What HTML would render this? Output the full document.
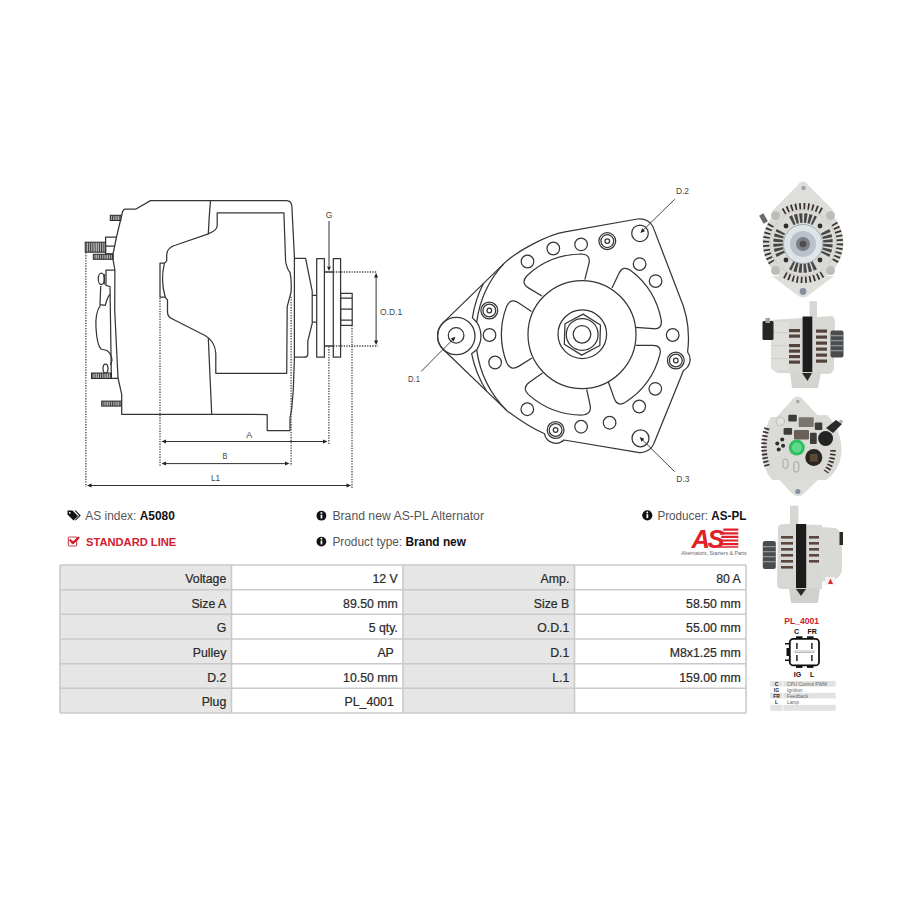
<!DOCTYPE html>
<html><head><meta charset="utf-8"><title>A5080</title>
<style>
html,body{margin:0;padding:0;background:#fff;}
body{width:900px;height:900px;position:relative;overflow:hidden;font-family:"Liberation Sans",sans-serif;}
svg{position:absolute;left:0;top:0;}
</style></head><body>
<svg width="900" height="900" viewBox="0 0 900 900">
<defs>
<pattern id="hatch" width="2.2" height="4" patternUnits="userSpaceOnUse">
<rect width="2.2" height="4" fill="#bcbcbc"/><rect width="1" height="4" fill="#3a3a3a"/>
</pattern>
</defs>
<rect width="900" height="900" fill="#fff"/>
<g fill="none" stroke="#363636" stroke-width="1.25" stroke-linejoin="round">
<path d="M150.5,200.6 L286.7,200.6 Q291.7,200.8 291.9,207 L294.4,256.7 L294.4,357.8 L293.3,390 L291.7,409 L290,418 L290,430.6 L267.2,430.6 L267.2,414.5 L121.7,414.3 L121.7,394.4 L118,378 L114.7,310 L114.9,270 L113,259.3 L113,254 L116.5,237 L122.5,212 Q123.5,209 125,209 L136,209 Z"/>
<path d="M210.5,200.6 Q209,218 208.3,233.9"/>
<path d="M208.3,338.3 L211.7,414.3"/>
<path d="M217.2,212.8 L283.9,212.8 L285.6,261 Q286.5,268 290,272.5 Q291.8,280 291.1,292 L287.2,306.7 L286.7,373.3 L215.8,373.3 L215.8,353.3 Q215,341 205,335.5 L173,319.2 Q167.5,317 167.5,312.2 L167.5,299.8 L165.2,297.1 L160,297.1 L160,263.2 L164.4,263.2 L166.7,260.9 L166.7,254.4 Q167,247.5 176,245 L208.3,233.9 Q217.2,230.5 217.2,225.6 Z"/>
<path d="M164.4,263.2 Q160.3,280 165.2,297.1"/>
<path d="M294.4,258.3 L305.6,258.3 L312.2,291.1 L312.2,323.3 L307.8,341.1 L307.8,354.4 Q307.5,357.2 304.4,357.2 L294.4,357.2"/>
<path d="M312.2,295.3 L316.7,295.3 M312.2,322.2 L316.7,322.2"/>
<rect x="316.7" y="258.7" width="7.7" height="98.5"/>
<rect x="333.3" y="258.7" width="7.3" height="98.5"/>
<rect x="340.6" y="293.3" width="11.6" height="32"/>
<path d="M340.6,298 L352.2,298 M340.6,309.1 L352.2,309.1 M340.6,320 L352.2,320"/>
<path d="M324.4,272 L333.3,272 M324.4,346 L333.3,346" stroke-width="1.6"/>
<path d="M116.5,237.2 L105.6,237.2 L105.6,253.9 L113,253.9"/>
<path d="M105.6,246.1 L114.8,246.1"/>
<path d="M114.9,270 L106,270 L106,285.3 L110,286.5 L111.3,373 M111.5,378.3 L118,378.3"/>
<ellipse cx="101.3" cy="278.8" rx="3" ry="5.8"/>
<path d="M104.3,274 L104.3,284.5"/>
<path d="M100.7,286 L100,304.7 L105.3,305.3 Q107,298 110,294"/>
<path d="M100.5,305 Q95,313 96,328 Q97,345 101,349 L107,350.5 Q111.5,354 112,360 L110.5,365"/>
<ellipse cx="105.5" cy="368.5" rx="2.5" ry="4.5"/>
</g>
<rect x="110.3" y="215.3" width="10.5" height="5.2" fill="url(#hatch)" stroke="#2a2a2a" stroke-width="1"/>
<rect x="85.2" y="242.2" width="20.4" height="10" fill="url(#hatch)" stroke="#2a2a2a" stroke-width="1"/>
<rect x="93.3" y="254.3" width="19.7" height="5" fill="url(#hatch)" stroke="#2a2a2a" stroke-width="1"/>
<rect x="91.5" y="373" width="20" height="5.5" fill="url(#hatch)" stroke="#2a2a2a" stroke-width="1"/>
<rect x="101.7" y="401.1" width="19.4" height="5" fill="url(#hatch)" stroke="#2a2a2a" stroke-width="1"/>
<g stroke="#444" stroke-width="1.3" stroke-dasharray="1.3 1.3" fill="none"><path d="M85.9,252.5 L85.9,487"/><path d="M160,298 L160,466"/><path d="M291.1,296.7 L291.1,466"/><path d="M328.9,346.5 L328.9,444"/><path d="M352,325.5 L352,488"/><path d="M333.3,272 L377,272"/><path d="M333.3,346 L378,346"/></g>
<g stroke="#333" stroke-width="1" fill="none"><path d="M376.1,276 L376.1,342"/><path d="M329,221 L329,266"/><path d="M165,441.5 L323,441.5"/><path d="M165,463.6 L286,463.6"/><path d="M91,485.5 L347,485.5"/></g>
<polygon fill="#222" points="376.1,273.0 378.1,277.5 374.1,277.5"/>
<polygon fill="#222" points="376.1,345.0 374.1,340.5 378.1,340.5"/>
<polygon fill="#222" points="329.0,271.0 327.0,266.5 331.0,266.5"/>
<polygon fill="#222" points="161.5,441.5 166.0,439.5 166.0,443.5"/>
<polygon fill="#222" points="327.5,441.5 323.0,443.5 323.0,439.5"/>
<polygon fill="#222" points="161.5,463.6 166.0,461.6 166.0,465.6"/>
<polygon fill="#222" points="289.5,463.6 285.0,465.6 285.0,461.6"/>
<polygon fill="#222" points="87.0,485.5 91.5,483.5 91.5,487.5"/>
<polygon fill="#222" points="351.0,485.5 346.5,487.5 346.5,483.5"/>
<g font-family="Liberation Sans, sans-serif" font-size="8.5" fill="#444"><text x="329" y="217.5" text-anchor="middle">G</text><text x="380" y="314.6">O.D.1</text><text x="249.3" y="437.7" text-anchor="middle" font-size="9">A</text><text x="225" y="459" text-anchor="middle" font-size="9.2" textLength="4.9" lengthAdjust="spacingAndGlyphs">B</text><text x="215.6" y="480.8" text-anchor="middle" font-size="9.8" textLength="9.2" lengthAdjust="spacingAndGlyphs">L1</text></g>
<g fill="none" stroke="#363636" stroke-width="1.25" stroke-linejoin="round">
<path d="M443.2,322.6 L503.9,263.6 C516.8,251.1 547.3,234.7 565,231.8 L637.4,219 A14.5 14.5 0 0 1 653.6,228.4 L679.5,296 A105.5 105.5 0 0 1 687.6,352 A12.5 12.5 0 0 1 683.5,370.5 L654.1,442.9 A14.5 14.5 0 0 1 637.9,452.3 L564,440 A11.7 11.7 0 0 1 544.5,433.8 C535,429.5 520,420.5 506.6,410.4 L443.3,349.5 A18.7 18.7 0 0 1 443.2,322.6 Z"/>
<path d="M483.4,283.5 A111 111 0 0 0 472.4,317.9 L476.7,322.2"/>
<path d="M476.7,349.8 L471.6,353.7 A111 111 0 0 0 486.5,391"/>
<path d="M503.9,263.6 A106.5 106.5 0 0 0 476.7,322.2 A24.6 24.6 0 0 1 476.7,349.8 A106.5 106.5 0 0 0 506.6,410.4"/>
<circle cx="456.3" cy="336.0" r="18.7" />
<circle cx="456.1" cy="335.4" r="7.8" />
<circle cx="582.0" cy="334.5" r="54.0" />
<circle cx="582.3" cy="334.2" r="24.3" />
<circle cx="582.2" cy="334.4" r="15.9" />
<circle cx="582.0" cy="334.3" r="8.8" />
<polygon points="583.1,314.1 600.5,325.0 599.8,345.5 581.7,355.1 564.3,344.2 565.0,323.7"/>
<path d="M542.0,296.0 L528.8,288.1 Q520.2,282.9 527.0,275.7 A80.5 80.5 0 0 1 581.3,254.0 Q591.3,254.5 588.8,264.2 L584.8,279.7"/>
<path d="M612.0,287.9 L619.0,273.3 Q622.9,265.2 630.4,270.2 A80.5 80.5 0 0 1 661.3,320.4 Q662.3,329.4 653.4,328.7 L635.5,327.4"/>
<path d="M635.9,345.4 L652.8,345.4 Q661.8,345.4 660.0,354.2 A80.5 80.5 0 0 1 625.1,402.5 Q617.2,406.9 614.2,398.4 L608.3,381.7"/>
<path d="M586.7,389.3 L590.0,404.6 Q592.1,414.4 582.1,415.0 A80.5 80.5 0 0 1 528.5,394.6 Q521.5,387.6 529.7,381.9 L542.5,373.0"/>
<path d="M532.0,358.0 L519.0,366.1 Q510.5,371.4 506.5,362.3 A80.5 80.5 0 0 1 506.5,306.6 Q510.5,297.5 518.8,303.1 L531.5,311.5"/>
<circle cx="527.5" cy="261.5" r="6.3" />
<circle cx="553.3" cy="248.5" r="6.3" />
<circle cx="581.1" cy="244.4" r="6.3" />
<circle cx="639.6" cy="264.1" r="6.3" />
<circle cx="655.6" cy="281.1" r="6.3" />
<circle cx="672.7" cy="335.0" r="6.3" />
<circle cx="655.3" cy="388.8" r="6.3" />
<circle cx="639.2" cy="406.5" r="6.3" />
<circle cx="609.6" cy="422.7" r="6.3" />
<circle cx="581.1" cy="426.7" r="6.3" />
<circle cx="527.3" cy="409.2" r="6.3" />
<circle cx="495.1" cy="362.5" r="6.3" />
<circle cx="489.5" cy="335.0" r="6.3" />
<circle cx="607.3" cy="241.1" r="8.4" />
<circle cx="607.3" cy="241.1" r="6.4" />
<circle cx="607.3" cy="241.1" r="2.3" />
<circle cx="489.3" cy="310.5" r="8.4" />
<circle cx="489.3" cy="310.5" r="6.4" />
<circle cx="489.3" cy="310.5" r="2.3" />
<circle cx="555.6" cy="430.0" r="8.4" />
<circle cx="555.6" cy="430.0" r="6.4" />
<circle cx="555.6" cy="430.0" r="2.3" />
<circle cx="675.8" cy="360.5" r="8.4" />
<circle cx="675.8" cy="360.5" r="6.4" />
<circle cx="675.8" cy="360.5" r="2.3" />
<circle cx="640.0" cy="233.3" r="8.3" />
<circle cx="640.5" cy="438.3" r="8.5" />
</g>
<g stroke="#333" stroke-width="0.9" fill="none"><line x1="421.3" y1="371.3" x2="453" y2="339.3"/><line x1="674.7" y1="199.3" x2="642" y2="231.3"/><line x1="674.7" y1="471.7" x2="641.7" y2="439.1"/></g>
<polygon fill="#222" points="455.4,336.8 453.7,341.4 450.8,338.6"/>
<polygon fill="#222" points="640.4,232.9 642.2,228.3 645.0,231.2"/>
<polygon fill="#222" points="639.7,437.1 644.3,438.8 641.5,441.7"/>
<g font-family="Liberation Sans, sans-serif" font-size="9.4" fill="#444"><text x="408" y="381.7" textLength="11.9" lengthAdjust="spacingAndGlyphs">D.1</text><text x="676" y="194.4" textLength="13" lengthAdjust="spacingAndGlyphs">D.2</text><text x="676.3" y="481.8" textLength="13.2" lengthAdjust="spacingAndGlyphs">D.3</text></g>
<rect x="60" y="565.0" width="171.5" height="24.7" fill="#e6e6e6"/>
<rect x="231.5" y="565.0" width="171.5" height="24.7" fill="#ffffff"/>
<rect x="403" y="565.0" width="171.5" height="24.7" fill="#e6e6e6"/>
<rect x="574.5" y="565.0" width="171.5" height="24.7" fill="#ffffff"/>
<rect x="60" y="589.7" width="171.5" height="24.7" fill="#e6e6e6"/>
<rect x="231.5" y="589.7" width="171.5" height="24.7" fill="#ffffff"/>
<rect x="403" y="589.7" width="171.5" height="24.7" fill="#e6e6e6"/>
<rect x="574.5" y="589.7" width="171.5" height="24.7" fill="#ffffff"/>
<rect x="60" y="614.3" width="171.5" height="24.7" fill="#e6e6e6"/>
<rect x="231.5" y="614.3" width="171.5" height="24.7" fill="#ffffff"/>
<rect x="403" y="614.3" width="171.5" height="24.7" fill="#e6e6e6"/>
<rect x="574.5" y="614.3" width="171.5" height="24.7" fill="#ffffff"/>
<rect x="60" y="639.0" width="171.5" height="24.7" fill="#e6e6e6"/>
<rect x="231.5" y="639.0" width="171.5" height="24.7" fill="#ffffff"/>
<rect x="403" y="639.0" width="171.5" height="24.7" fill="#e6e6e6"/>
<rect x="574.5" y="639.0" width="171.5" height="24.7" fill="#ffffff"/>
<rect x="60" y="663.7" width="171.5" height="24.7" fill="#e6e6e6"/>
<rect x="231.5" y="663.7" width="171.5" height="24.7" fill="#ffffff"/>
<rect x="403" y="663.7" width="171.5" height="24.7" fill="#e6e6e6"/>
<rect x="574.5" y="663.7" width="171.5" height="24.7" fill="#ffffff"/>
<rect x="60" y="688.3" width="171.5" height="24.7" fill="#e6e6e6"/>
<rect x="231.5" y="688.3" width="171.5" height="24.7" fill="#ffffff"/>
<rect x="403" y="688.3" width="171.5" height="24.7" fill="#e6e6e6"/>
<rect x="574.5" y="688.3" width="171.5" height="24.7" fill="#ffffff"/>
<path d="M60,565.0 L746,565.0 M60,589.7 L746,589.7 M60,614.3 L746,614.3 M60,639.0 L746,639.0 M60,663.7 L746,663.7 M60,688.3 L746,688.3 M60,713.0 L746,713.0 M60,565 L60,713 M231.5,565 L231.5,713 M403,565 L403,713 M574.5,565 L574.5,713 M746,565 L746,713" stroke="#cacaca" stroke-width="1.6" fill="none"/>
<g font-family="Liberation Sans, sans-serif" font-size="12.3" fill="#2a2a2a" stroke="#2a2a2a" stroke-width="0.22" text-anchor="end">
<text x="226.3" y="582.8">Voltage</text>
<text x="397.8" y="582.8">12 V</text>
<text x="569.3" y="582.8">Amp.</text>
<text x="740.8" y="582.8">80 A</text>
<text x="226.3" y="607.5">Size A</text>
<text x="397.8" y="607.5">89.50 mm</text>
<text x="569.3" y="607.5">Size B</text>
<text x="740.8" y="607.5">58.50 mm</text>
<text x="226.3" y="632.1">G</text>
<text x="397.8" y="632.1">5 qty.</text>
<text x="569.3" y="632.1">O.D.1</text>
<text x="740.8" y="632.1">55.00 mm</text>
<text x="226.3" y="656.8">Pulley</text>
<text x="393.8" y="656.8">AP</text>
<text x="569.3" y="656.8">D.1</text>
<text x="740.8" y="656.8">M8x1.25 mm</text>
<text x="226.3" y="681.5">D.2</text>
<text x="397.8" y="681.5">10.50 mm</text>
<text x="569.3" y="681.5">L.1</text>
<text x="740.8" y="681.5">159.00 mm</text>
<text x="226.3" y="706.1">Plug</text>
<text x="393.8" y="706.1">PL_4001</text>
</g>
<!-- header info -->
<g font-family="Liberation Sans, sans-serif" font-size="12">
  <!-- tag icon -->
  <g transform="translate(67.5,510)" fill="#111">
    <path d="M0,0.5 L5,0.5 L10.5,6 L6,10.5 L0,4.5 Z"/>
    <path d="M7,0.5 L8.3,0.5 L13.3,5.5 L8.2,10.6 L7.5,9.9 L11.6,5.6 Z"/>
    <circle cx="2.3" cy="2.8" r="0.9" fill="#fff"/>
  </g>
  <text x="85.3" y="519.8" fill="#555" textLength="89.5" lengthAdjust="spacingAndGlyphs">AS index: <tspan font-weight="bold" fill="#111">A5080</tspan></text>
  <!-- check icon -->
  <rect x="68.3" y="537" width="8.4" height="9" rx="1.2" fill="none" stroke="#c8404c" stroke-width="1.1"/>
  <path d="M70.3,540.3 L72.8,543.1 L78.4,537.8" fill="none" stroke="#d0202e" stroke-width="2.3" stroke-linecap="round" stroke-linejoin="round"/>
  <text x="86" y="545.9" fill="#d0202e" font-weight="bold" font-size="11.2" textLength="90.3" lengthAdjust="spacingAndGlyphs">STANDARD LINE</text>
  <!-- info icons -->
  <g fill="#111">
    <circle cx="321.4" cy="515.7" r="4.9"/>
    <circle cx="321.4" cy="541.6" r="4.9"/>
    <circle cx="647.3" cy="515.3" r="5.1"/>
  </g>
  <g fill="#fff">
    <rect x="320.6" y="514.6" width="1.7" height="3.9"/><circle cx="321.4" cy="512.9" r="0.95"/>
    <rect x="320.6" y="540.5" width="1.7" height="3.9"/><circle cx="321.4" cy="538.8" r="0.95"/>
    <rect x="646.5" y="514.2" width="1.7" height="3.9"/><circle cx="647.3" cy="512.5" r="0.95"/>
  </g>
  <text x="332.4" y="520" fill="#555" textLength="151.6" lengthAdjust="spacingAndGlyphs">Brand new AS-PL Alternator</text>
  <text x="332.4" y="546.3" fill="#555" textLength="133.5" lengthAdjust="spacingAndGlyphs">Product type: <tspan font-weight="bold" fill="#111">Brand new</tspan></text>
  <text x="657.4" y="519.5" fill="#555" textLength="88.9" lengthAdjust="spacingAndGlyphs">Producer: <tspan font-weight="bold" fill="#111">AS-PL</tspan></text>
</g>
<!-- AS logo -->
<g>
  <g fill="#e0202a">
    <path d="M723.5,528.6 L738.3,528.6 L738.3,530.8 L723,530.8 Z"/>
    <path d="M722.5,532.2 L738.3,532.2 L738.3,534.4 L722,534.4 Z"/>
    <path d="M721.5,535.8 L738.3,535.8 L738.3,538 L721,538 Z"/>
    <path d="M720.5,539.4 L738.3,539.4 L738.3,541.6 L720,541.6 Z"/>
    <path d="M719.5,543 L738.3,543 L738.3,545.2 L719,545.2 Z"/>
    <path d="M718.5,546.2 L738.3,546.2 L738.3,547.8 L718,547.8 Z"/>
  </g>
  <text x="691.5" y="547.6" font-family="Liberation Sans, sans-serif" font-weight="bold" font-style="italic" font-size="25.5" fill="#e0202a" letter-spacing="-2.5">AS</text>
</g>
<text x="681.3" y="555.3" font-family="Liberation Sans, sans-serif" font-size="5" fill="#666" textLength="65.4" lengthAdjust="spacingAndGlyphs">Alternators, Starters &amp; Parts</text>
<!-- photo 1: front view -->
<g>
  <path d="M803,181.5 Q806.5,181.5 808.5,185.5 L834,211 L772,211 L797.5,185.5 Q799.5,181.5 803,181.5 Z" fill="#dededa"/>
  <circle cx="803.5" cy="188" r="2.2" fill="#a0a4a8"/>
  <path d="M772,276 L834,276 L809,295 Q803,300 797,295 Z" fill="#dededa"/>
  <circle cx="803" cy="291.5" r="3.4" fill="#8390a0"/>
  <circle cx="803" cy="243" r="40.5" fill="#dadad6"/>
  <path d="M783.5,211.8 A36.8 36.8 0 0 1 822.5,211.8 M834.2,223.5 A36.8 36.8 0 0 1 834.2,262.5 M822.5,274.2 A36.8 36.8 0 0 1 783.5,274.2 M771.8,262.5 A36.8 36.8 0 0 1 771.8,223.5" fill="none" stroke="#3a302e" stroke-width="6.5" stroke-dasharray="1.7 2.5"/>
  <circle cx="803" cy="243" r="32.8" fill="none" stroke="#cfcfcb" stroke-width="1.5"/>
  <path d="M791.3,220.9 A25 25 0 0 1 814.7,220.9 M825.1,231.3 A25 25 0 0 1 825.1,254.7 M814.7,265.1 A25 25 0 0 1 791.3,265.1 M780.9,254.7 A25 25 0 0 1 780.9,231.3" fill="none" stroke="#484848" stroke-width="9.5" stroke-dasharray="2.8 1.6"/>
  <g stroke="#d8d8d4" stroke-width="6">
    <line x1="774" y1="214" x2="832" y2="272"/><line x1="832" y1="214" x2="774" y2="272"/>
  </g>
  <g fill="#bcbcb8"><circle cx="775.5" cy="215.5" r="4.5"/><circle cx="830.5" cy="215.5" r="4.5"/><circle cx="775.5" cy="270.5" r="4.5"/><circle cx="830.5" cy="270.5" r="4.5"/></g>
  <g fill="#2e2e2e"><circle cx="786" cy="226" r="2.4"/><circle cx="820" cy="226" r="2.4"/><circle cx="786" cy="260" r="2.4"/><circle cx="820" cy="260" r="2.4"/></g>
  <rect x="761" y="214" width="5" height="9" fill="#6a6a66" transform="rotate(-30 763.5 218.5)"/>
  <circle cx="803" cy="244" r="19.5" fill="#dfe4e9" stroke="#a6aeb6" stroke-width="1"/>
  <circle cx="803" cy="244" r="13" fill="#b9c2cb"/>
  <circle cx="803" cy="244" r="7" fill="#7c8084"/>
  <circle cx="803" cy="244" r="3.3" fill="#4e4e4e"/>
</g>
<!-- photo 2: side view, pulley right -->
<g>
  <rect x="809.5" y="301" width="7.5" height="20" fill="#d6d6d2"/>
  <path d="M771,320 L832,316 Q835,318 835,322 L834,368 Q833,374 828,374 L778,373 Q772,371 771,365 Z" fill="#d8d8d4"/>
  <rect x="771" y="322" width="18" height="48" rx="3" fill="#dfdfdb"/>
  <g fill="#cfcfcb"><rect x="771" y="332" width="17" height="1.2"/><rect x="771" y="345" width="17" height="1.2"/><rect x="771" y="358" width="17" height="1.2"/></g>
  <g fill="#54423c">
    <rect x="789" y="329" width="11" height="3.2"/><rect x="789" y="334.5" width="11" height="3.2"/>
    <rect x="789" y="344" width="11" height="3.2"/><rect x="789" y="349.5" width="11" height="3.2"/>
    <rect x="789" y="355" width="11" height="3.2"/><rect x="789" y="360.5" width="11" height="3.2"/>
    <rect x="816" y="329.5" width="11" height="3.2"/><rect x="816" y="335.5" width="11" height="3.2"/>
    <rect x="816" y="341.5" width="11" height="3.2"/><rect x="816" y="347.5" width="11" height="3.2"/>
    <rect x="816" y="353.5" width="11" height="3.2"/><rect x="816" y="359.5" width="11" height="3.2"/>
  </g>
  <rect x="802.6" y="316.5" width="9.7" height="58" fill="#1c1c1c"/>
  <rect x="762.5" y="321" width="11" height="19" rx="1.5" fill="#262626"/>
  <rect x="765.5" y="318" width="4.5" height="5" fill="#a2a29e"/>
  <path d="M790,372 L821,372 L818,388 L792,388 Z" fill="#d4d4d0"/>
  <path d="M802,373 L812,373 L807.5,381 Z" fill="#2a2a2a"/>
  <rect x="830.5" y="330.5" width="13" height="27" rx="2" fill="#4a4c4e"/>
  <g fill="#909294"><rect x="830.5" y="335" width="13" height="1.3"/><rect x="830.5" y="340" width="13" height="1.3"/><rect x="830.5" y="345" width="13" height="1.3"/><rect x="830.5" y="350" width="13" height="1.3"/></g>
</g>
<!-- photo 3: back view -->
<g>
  <path d="M797.8,396.5 Q801.5,396.5 803.5,400 L824,422 L772,422 L792,400 Q794,396.5 797.8,396.5 Z" fill="#dcdcd8"/>
  <circle cx="797.8" cy="401.6" r="1.8" fill="#a8a8a4"/>
  <path d="M776,476 L822,476 L804,493.5 Q798,499 792,493.5 Z" fill="#dcdcd8"/>
  <circle cx="797.8" cy="491.5" r="2.6" fill="#8590a0"/>
  <path d="M771,417 L827,415 Q842,430 841.5,452 Q840,470 826,480 L772,480 Q762,468 762.5,450 Q763,430 771,417 Z" fill="#dadad6"/>
  <path d="M767,428 Q761,446 767,466" fill="none" stroke="#3d3230" stroke-width="5.5" stroke-dasharray="1.7 2"/>
  <path d="M833,450 Q833,462 826,472" fill="none" stroke="#3d3230" stroke-width="5.5" stroke-dasharray="1.7 2"/>
  <circle cx="780.3" cy="421.4" r="4.2" fill="#e2e2de" stroke="#b4b4b0" stroke-width="0.8"/>
  <g fill="#3e3c3a">
    <rect x="788.3" y="414.8" width="8.5" height="6.6" rx="1"/>
    <rect x="798.7" y="417.2" width="15" height="9.9" rx="1" fill="#7a756c"/>
    <rect x="814.8" y="422.4" width="7.5" height="7.6" rx="1"/>
    <rect x="783.6" y="428" width="8.5" height="6.7" rx="1"/>
    <rect x="794" y="430" width="15" height="9.4" rx="1" fill="#6a5f55"/>
    <rect x="810" y="432.8" width="6.7" height="11.2" rx="1"/>
  </g>
  <circle cx="796.8" cy="447.6" r="8" fill="#2cc060"/>
  <circle cx="796.8" cy="447.6" r="5" fill="#5fd88a"/>
  <circle cx="813.8" cy="457.5" r="8.5" fill="#2c2622"/>
  <rect x="810" y="454" width="7.6" height="7.7" fill="#5a4838"/>
  <circle cx="825.6" cy="438.5" r="7.5" fill="#232323"/>
  <path d="M826,428 L836,420 L842,424 L833,433 Z" fill="#2a2a2a"/>
  <circle cx="841" cy="421.5" r="1.8" fill="#b0b0ac"/>
  <g fill="#2c2c2c"><circle cx="782.2" cy="439.4" r="2"/><circle cx="777.3" cy="443.5" r="2"/><circle cx="783.1" cy="445.8" r="2"/><circle cx="778.7" cy="449.6" r="2"/></g>
  <g fill="none" stroke="#a4a4a0" stroke-width="1"><rect x="783" y="459" width="5" height="9.5" rx="2.5"/><rect x="793.8" y="461.7" width="5" height="10.4" rx="2.5"/></g>
</g>
<!-- photo 4: side view, pulley left -->
<g>
  <rect x="790" y="505.7" width="8.5" height="22" fill="#d6d6d2"/>
  <path d="M778,527 Q779,524 784,524 L822,525 L822,589 L782,589 Q777,589 777,584 Z" fill="#d7d7d3"/>
  <path d="M820,527 L836,528 Q842,532 842,540 L842,570 Q841,577 834,580 L820,582 Z" fill="#d9d9d5"/>
  <g fill="#5a463f">
    <rect x="781" y="536" width="12" height="2.6"/><rect x="781" y="542" width="12" height="2.6"/>
    <rect x="781" y="548" width="12" height="2.6"/><rect x="781" y="554" width="12" height="2.6"/>
    <rect x="781" y="560" width="12" height="2.6"/><rect x="781" y="566" width="12" height="2.6"/>
    <rect x="809" y="536" width="10" height="2.6"/><rect x="809" y="542" width="10" height="2.6"/>
    <rect x="809" y="548" width="10" height="2.6"/><rect x="809" y="554" width="10" height="2.6"/>
    <rect x="809" y="560" width="10" height="2.6"/>
  </g>
  <rect x="796" y="524" width="10.2" height="66" fill="#1c1c1c"/>
  <rect x="839.5" y="532" width="3.5" height="13" fill="#2a2a2a"/>
  <path d="M789,588 L820,588 L818,603 L791,603 Z" fill="#d0d0cc"/>
  <path d="M796,589 L806,589 L801,596 Z" fill="#2a2a2a"/>
  <rect x="762.8" y="541" width="13" height="28" rx="2" fill="#4a4c4e"/>
  <g fill="#909294"><rect x="762.8" y="546" width="13" height="1.3"/><rect x="762.8" y="551" width="13" height="1.3"/><rect x="762.8" y="556" width="13" height="1.3"/><rect x="762.8" y="561" width="13" height="1.3"/></g>
  <rect x="825" y="577" width="10" height="8" fill="#f2f2f2"/>
  <path d="M828,584 L830.5,578.5 L833,584 Z" fill="#d83030"/>
</g>
<!-- plug PL_4001 -->
<g font-family="Liberation Sans, sans-serif">
  <text x="801.7" y="623.8" text-anchor="middle" font-size="8.6" font-weight="bold" fill="#d0202e">PL_4001</text>
  <text x="796.5" y="634" text-anchor="middle" font-size="7" font-weight="bold" fill="#111">C</text>
  <text x="812.2" y="634" text-anchor="middle" font-size="7" font-weight="bold" fill="#111">FR</text>
  <text x="797.4" y="676.6" text-anchor="middle" font-size="7" font-weight="bold" fill="#111">IG</text>
  <text x="812.2" y="676.6" text-anchor="middle" font-size="7" font-weight="bold" fill="#111">L</text>
  <rect x="789.8" y="638.8" width="29.2" height="26.6" rx="3.5" fill="#fff" stroke="#111" stroke-width="1.8"/>
  <g fill="#111">
    <rect x="796" y="636.3" width="6.5" height="2.5"/><rect x="807" y="636.3" width="6.5" height="2.5"/>
    <rect x="796" y="665.4" width="6.5" height="2.5"/><rect x="807" y="665.4" width="6.5" height="2.5"/>
    <rect x="785" y="643" width="4.8" height="1.5"/><rect x="785" y="659.5" width="4.8" height="1.5"/>
    <rect x="786.5" y="648" width="3.3" height="8"/>
    <rect x="796.2" y="643" width="1.4" height="6"/><rect x="811.2" y="643" width="1.4" height="6"/>
    <rect x="796.2" y="655" width="1.4" height="6"/><rect x="811.2" y="655" width="1.4" height="6"/>
  </g>
  <rect x="795" y="651" width="19" height="1.6" fill="#fff" stroke="#777" stroke-width="0.5"/>
  <g fill="#e2e2e2">
    <rect x="770.2" y="681" width="65.4" height="5.6"/>
    <rect x="770.2" y="692.8" width="65.4" height="5.6"/>
    <rect x="770.2" y="704.8" width="65.4" height="6"/>
  </g>
  <g fill="#fff"><rect x="782.5" y="681" width="0.8" height="30"/></g>
  <g font-size="5" fill="#222" font-weight="bold" text-anchor="middle">
    <text x="776.5" y="685.8">C</text><text x="776.5" y="691.7">IG</text><text x="776.5" y="697.6">FR</text><text x="776.5" y="703.5">L</text>
  </g>
  <g font-size="4.8" fill="#666">
    <text x="787" y="685.8">CPU Control PWM</text><text x="787" y="691.7">Ignition</text><text x="787" y="697.6">Feedback</text><text x="787" y="703.5">Lamp</text>
  </g>
</g>

</svg>
</body></html>
